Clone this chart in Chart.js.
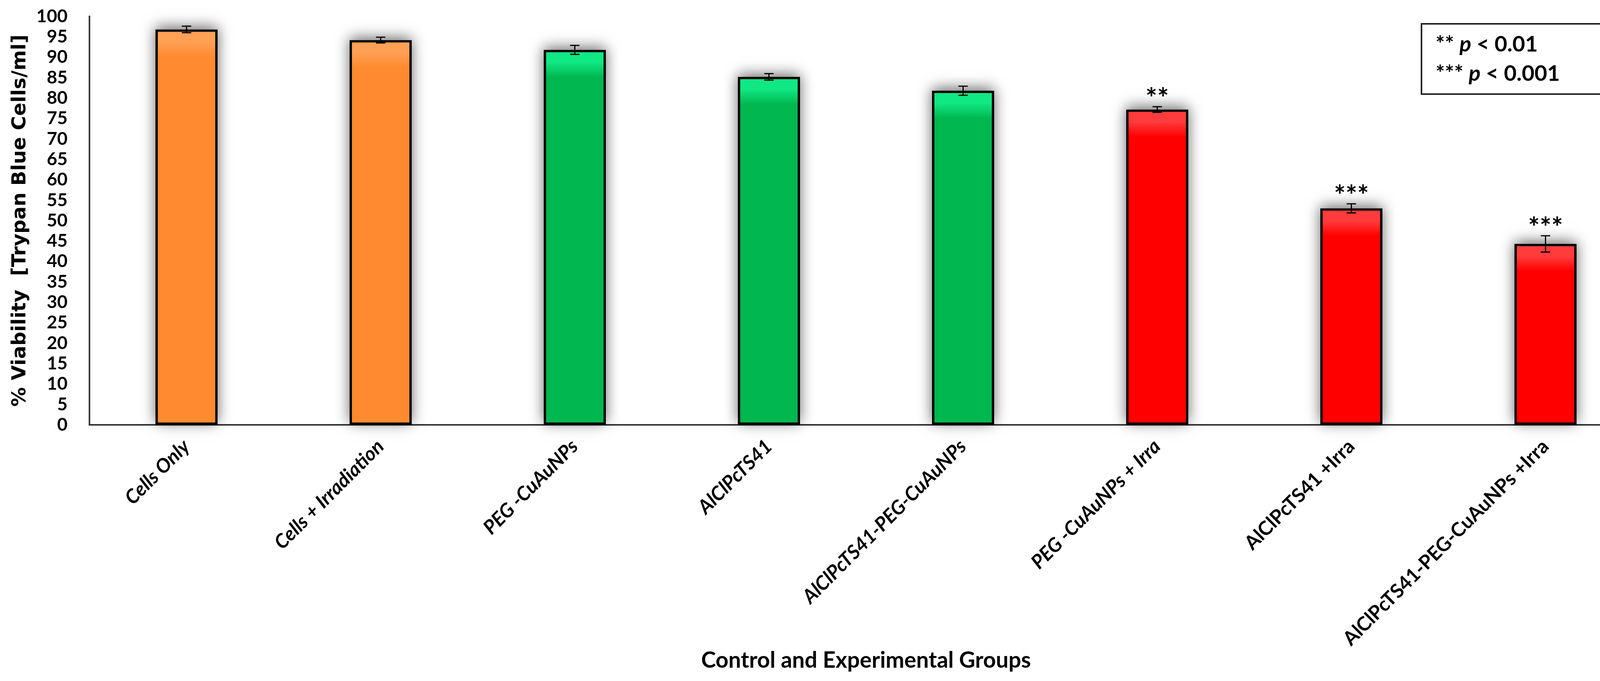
<!DOCTYPE html>
<html lang="en">
<head>
    <meta charset="UTF-8">
    <title>% Viability - Trypan Blue</title>
    <script src="https://cdn.jsdelivr.net/npm/chart.js"></script>
    <style>
        html, body { margin: 0; padding: 0; background: #fff; }
        #box { width: 4212px; height: 1744px; position: relative; }
    </style>
</head>
<body>
    <div id="box"><canvas id="viabChart"></canvas></div>

    <script>
        // data
        const groups = ['Cells Only', 'Cells + Irradiation', 'PEG -CuAuNPs', 'AlClPcTS41',
            'AlClPcTS41-PEG-CuAuNPs', 'PEG -CuAuNPs + Irra', 'AlClPcTS41 +Irra',
            'AlClPcTS41-PEG-CuAuNPs +Irra'];
        const viability = [96.8, 94.2, 91.8, 85.2, 81.8, 77.2, 53.0, 44.3];
        const errorSD = [0.8, 0.7, 1.1, 0.8, 1.1, 0.7, 1.1, 2.0];
        const stars = ['', '', '', '', '', '**', '***', '***'];
        const italicLabel = [true, true, true, true, true, true, false, false];
        const yTicks = [0, 5, 10, 15, 20, 25, 30, 35, 40, 45, 50, 55, 60, 65, 70, 75, 80, 85, 90, 95, 100];

        const ORANGE = '#FF8A2F', GREEN = '#00B84F', RED = '#FF0000';
        const LIGHT = { '#FF8A2F': '#FFA055', '#00B84F': '#10E884', '#FF0000': '#FF3C3C' };
        const barColors = [ORANGE, ORANGE, GREEN, GREEN, GREEN, RED, RED, RED];

        const FONT = 'Lato, "Open Sans", sans-serif';

        // bevel-ish highlight near bar top
        function barFill(ctx) {
            const base = barColors[ctx.dataIndex];
            const chart = ctx.chart;
            if (!chart.chartArea) return base;
            const yTop = chart.scales.y.getPixelForValue(ctx.raw);
            const g = chart.ctx.createLinearGradient(0, yTop, 0, yTop + 70);
            g.addColorStop(0, base);
            g.addColorStop(0.12, LIGHT[base]);
            g.addColorStop(0.45, LIGHT[base]);
            g.addColorStop(1, base);
            return g;
        }

        // soft grey shadow behind the bars (bar element clips its own, so paint it first)
        const shadowPlugin = {
            id: 'barShadow',
            beforeDatasetsDraw(chart) {
                const c = chart.ctx;
                const meta = chart.getDatasetMeta(0);
                c.save();
                c.shadowColor = 'rgba(0,0,0,0.6)';
                c.shadowBlur = 34;
                c.shadowOffsetX = 0;
                c.shadowOffsetY = -6;
                c.fillStyle = '#888';
                meta.data.forEach(bar => {
                    const w = bar.width;
                    c.fillRect(bar.x - w / 2, bar.y, w, bar.base - bar.y);
                });
                c.restore();
            }
        };

        // error bars + significance stars
        const errorPlugin = {
            id: 'errBars',
            afterDatasetsDraw(chart) {
                const c = chart.ctx;
                const y = chart.scales.y;
                const meta = chart.getDatasetMeta(0);
                c.save();
                c.strokeStyle = '#000';
                c.lineWidth = 3;
                meta.data.forEach((bar, i) => {
                    const top = y.getPixelForValue(viability[i] + errorSD[i]);
                    const bot = y.getPixelForValue(viability[i] - errorSD[i]);
                    const x = bar.x;
                    c.beginPath();
                    c.moveTo(x, top); c.lineTo(x, bot);
                    c.moveTo(x - 12, top); c.lineTo(x + 12, top);
                    c.moveTo(x - 12, bot); c.lineTo(x + 12, bot);
                    c.stroke();
                    if (stars[i]) {
                        c.fillStyle = '#000';
                        c.font = 'bold 70px ' + FONT;
                        c.textAlign = 'center';
                        c.textBaseline = 'alphabetic';
                        c.fillText(stars[i], x, top + 4);
                    }
                });
                c.restore();
            }
        };

        // p-value key box, top right
        const keyPlugin = {
            id: 'pKey',
            afterDraw(chart) {
                const c = chart.ctx;
                c.save();
                c.strokeStyle = '#222';
                c.lineWidth = 4;
                c.strokeRect(3639, 61, 472, 180);
                const lines = [['**', '0.01', 132], ['***', '0.001', 207]];
                c.fillStyle = '#000';
                c.textBaseline = 'alphabetic';
                c.textAlign = 'left';
                lines.forEach(([s, v, base]) => {
                    let x = 3675;
                    c.font = 'bold 56px ' + FONT;
                    c.fillText(s + ' ', x, base);
                    x += c.measureText(s + ' ').width;
                    c.font = 'italic bold 56px ' + FONT;
                    c.fillText('p', x, base);
                    x += c.measureText('p').width;
                    c.font = 'bold 56px ' + FONT;
                    c.fillText(' < ' + v, x, base);
                });
                c.restore();
            }
        };

        const ctx = document.getElementById('viabChart').getContext('2d');
        const viabChart = new Chart(ctx, {
            type: 'bar',
            data: {
                labels: groups,
                datasets: [{
                    label: '% Viability',
                    data: viability,
                    backgroundColor: barFill,
                    borderColor: '#000',
                    borderWidth: 6,
                    borderSkipped: false,
                    categoryPercentage: 1,
                    barPercentage: 0.32
                }]
            },
            options: {
                responsive: true,
                maintainAspectRatio: false,
                devicePixelRatio: 1,
                animation: false,
                layout: { padding: { top: 42, right: 7, left: 0, bottom: 0 } },
                plugins: {
                    legend: { display: false },
                    tooltip: { enabled: false }
                },
                scales: {
                    x: {
                        grid: { display: false },
                        border: { display: true, color: '#333', width: 4 },
                        ticks: {
                            color: '#000',
                            minRotation: 45,
                            maxRotation: 45,
                            padding: 18,
                            font: (c) => ({
                                family: FONT,
                                size: 50,
                                weight: 'bold',
                                style: italicLabel[c.index] ? 'italic' : 'normal'
                            })
                        },
                        title: {
                            display: true,
                            text: 'Control and Experimental Groups',
                            color: '#000',
                            font: { family: FONT, size: 57, weight: 'bold' },
                            padding: { top: 0, bottom: 18 }
                        },
                        afterFit(scale) { scale.height = 656; }
                    },
                    y: {
                        min: 0,
                        max: 100,
                        grid: { display: false },
                        border: { display: true, color: '#333', width: 4 },
                        afterBuildTicks(scale) {
                            scale.ticks = yTicks.map(v => ({ value: v }));
                        },
                        ticks: {
                            color: '#000',
                            autoSkip: false,
                            padding: 48,
                            font: { family: FONT, size: 46, weight: 'bold' }
                        },
                        title: {
                            display: true,
                            text: '% Viability  [Trypan Blue Cells/ml]',
                            color: '#000',
                            font: { family: '"DejaVu Sans", Verdana, sans-serif', size: 50, weight: 'bold' },
                            padding: { top: 22, bottom: 0 }
                        },
                        afterFit(scale) {
                            scale.width = 229;
                            // tick padding would otherwise push the plot top down
                            scale.paddingTop = 0;
                            scale.paddingBottom = 0;
                        }
                    }
                }
            },
            plugins: [shadowPlugin, errorPlugin, keyPlugin]
        });
    </script>
</body>
</html>
